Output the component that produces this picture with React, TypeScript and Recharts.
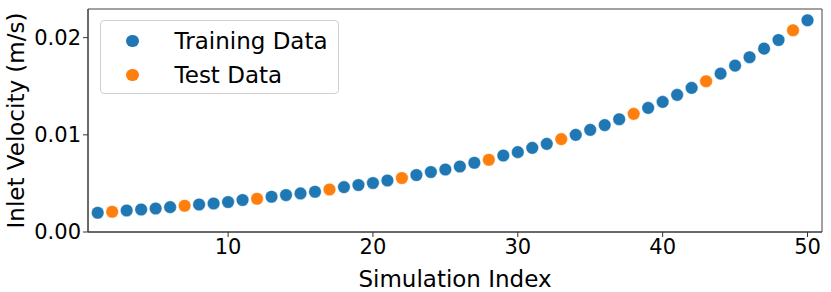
import React from 'react'
import {
  ScatterChart, Scatter, XAxis, YAxis, Legend, ReferenceArea,
} from 'recharts'

// simulation index + inlet velocity (m/s)
const trainIdx = [
  1, 3, 4, 5, 6, 8, 9, 10, 11, 13, 14, 15, 16, 18, 19, 20, 21, 23, 24, 25,
  26, 27, 29, 30, 31, 32, 34, 35, 36, 37, 39, 40, 41, 42, 44, 45, 46, 47, 48, 50,
]
const trainVel = [
  0.00198, 0.00222, 0.00232, 0.00242, 0.00256, 0.00283, 0.00294, 0.00308, 0.00329, 0.00363,
  0.0038, 0.00397, 0.00414, 0.00462, 0.00483, 0.00504, 0.0053, 0.00586, 0.00617, 0.00643,
  0.00674, 0.00712, 0.00787, 0.00822, 0.00866, 0.00907, 0.01, 0.01051, 0.011, 0.01161,
  0.01277, 0.01339, 0.01411, 0.01483, 0.0163, 0.01712, 0.01799, 0.01887, 0.01976, 0.02179,
]
const testIdx = [2, 7, 12, 17, 22, 28, 33, 38, 43, 49]
const testVel = [
  0.00209, 0.0027, 0.00342, 0.00438, 0.00555, 0.00743, 0.00956, 0.01216, 0.01552, 0.02076,
]
const xTicks = [10, 20, 30, 40, 50]
const yTicks = [0, 0.01, 0.02]

const X_MIN = 0.33
const X_MAX = 51
const Y_MIN = 0
const Y_MAX = 0.02295

const BLUE = '#1f77b4'
const ORANGE = '#ff7f0e'
const FONT = '"DejaVu Sans", sans-serif'

const trainData = trainIdx.map((x, i) => ({ x, y: trainVel[i] }))
const testData = testIdx.map((x, i) => ({ x, y: testVel[i] }))

const dot = (color: string) => (p: any) => (
  <circle cx={p.cx} cy={p.cy} r={6.3} fill={color} stroke="#fff" strokeWidth={0.4} />
)

function LegendBox() {
  const row = (color: string, label: string) => (
    <div style={{ display: 'flex', alignItems: 'center', height: 34 }}>
      <span style={{
        display: 'inline-block', width: 12.6, height: 12.6, borderRadius: '50%',
        background: color, marginLeft: 25, marginRight: 36,
      }} />
      <span>{label}</span>
    </div>
  )
  return (
    <div style={{
      width: 237, height: 69, paddingTop: 3, boxSizing: 'content-box',
      border: '1px solid #d0d0d0', borderRadius: 4, background: 'rgba(255,255,255,0.8)',
      fontFamily: FONT, fontSize: 23, color: '#000', lineHeight: '34px',
    }}>
      {row(BLUE, 'Training Data')}
      {row(ORANGE, 'Test Data')}
    </div>
  )
}

export default function App() {
  return (
    <div style={{ position: 'absolute', left: 0, top: 0, background: '#fff' }}>
      <ScatterChart width={831} height={292} margin={{ top: 9, right: 9, left: 0, bottom: 0 }}>
        <XAxis
          type="number" dataKey="x" domain={[X_MIN, X_MAX]} allowDataOverflow
          ticks={xTicks} height={60} tickSize={5} tickMargin={2}
          stroke="#333" tick={{ fill: '#000', fontSize: 21, fontFamily: FONT }}
          label={{ value: 'Simulation Index', position: 'insideBottom', offset: 5, fill: '#000', fontSize: 23, fontFamily: FONT }}
        />
        <YAxis
          type="number" dataKey="y" domain={[Y_MIN, Y_MAX]} allowDataOverflow
          ticks={yTicks} width={88} tickSize={5} tickMargin={2}
          tickFormatter={(v: number) => v.toFixed(2)}
          stroke="#333" tick={{ fill: '#000', fontSize: 21, fontFamily: FONT }}
          label={{ value: 'Inlet Velocity (m/s)', angle: -90, position: 'insideLeft', offset: 16, fill: '#000', fontSize: 23, fontFamily: FONT, style: { textAnchor: 'middle' } }}
        />
        <ReferenceArea x1={X_MIN} x2={X_MAX} y1={Y_MIN} y2={Y_MAX} fill="none" stroke="#444" strokeWidth={1} />
        <Legend
          content={<LegendBox />} layout="vertical" align="center" verticalAlign="middle"
          wrapperStyle={{ left: 100, top: 20, width: 'auto' }}
        />
        <Scatter name="Training Data" data={trainData} fill={BLUE} shape={dot(BLUE)} isAnimationActive={false} />
        <Scatter name="Test Data" data={testData} fill={ORANGE} shape={dot(ORANGE)} isAnimationActive={false} />
      </ScatterChart>
    </div>
  )
}
